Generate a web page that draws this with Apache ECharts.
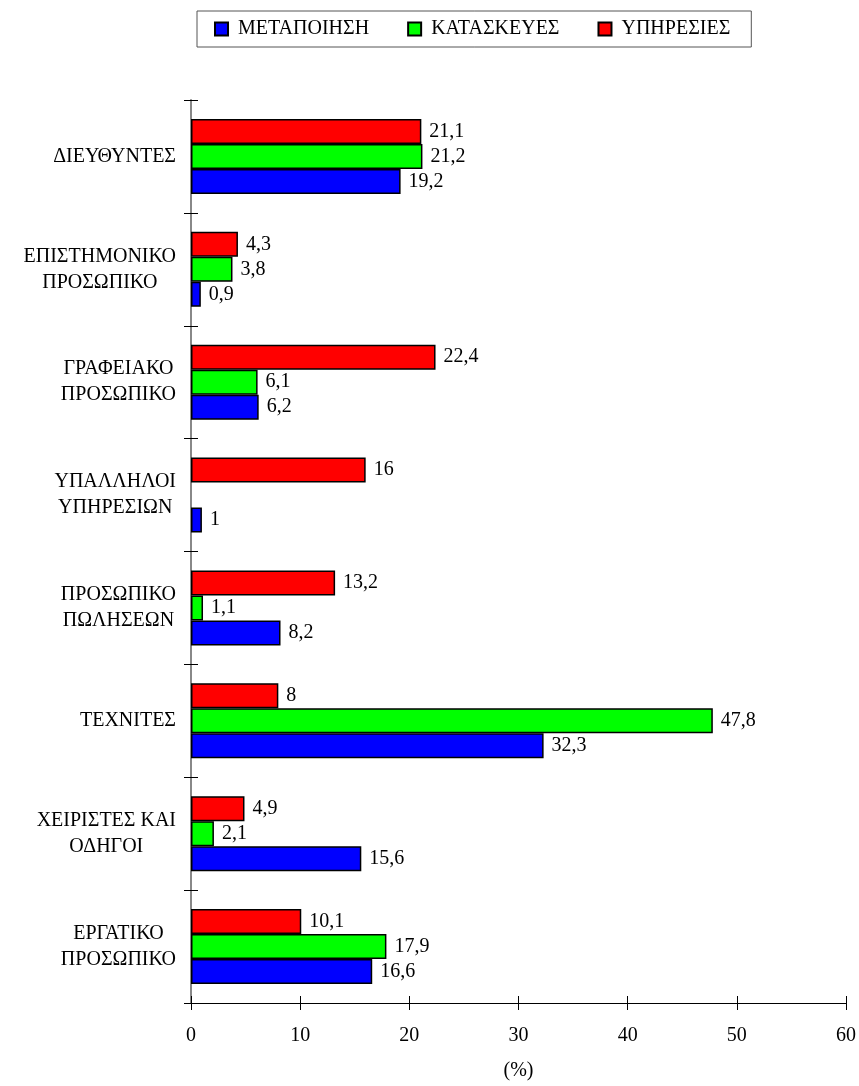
<!DOCTYPE html>
<html>
<head>
<meta charset="utf-8">
<title>Κατανομή απασχολούμενων ανά επάγγελμα και κλάδο</title>
<script src="https://cdn.jsdelivr.net/npm/echarts@6/dist/echarts.min.js"></script>
<style>
  html, body { margin: 0; padding: 0; background: #ffffff; }
  #chart { width: 859px; height: 1086px; }
</style>
</head>
<body>
<div id="chart"></div>
<script>
// Occupational groups (top to bottom)
const categories = [
  'ΔΙΕΥΘΥΝΤΕΣ',
  'ΕΠΙΣΤΗΜΟΝΙΚΟ\nΠΡΟΣΩΠΙΚΟ',
  'ΓΡΑΦΕΙΑΚΟ\nΠΡΟΣΩΠΙΚΟ',
  'ΥΠΑΛΛΗΛΟΙ\nΥΠΗΡΕΣΙΩΝ',
  'ΠΡΟΣΩΠΙΚΟ\nΠΩΛΗΣΕΩΝ',
  'ΤΕΧΝΙΤΕΣ',
  'ΧΕΙΡΙΣΤΕΣ ΚΑΙ\nΟΔΗΓΟΙ',
  'ΕΡΓΑΤΙΚΟ\nΠΡΟΣΩΠΙΚΟ'
];

// Share (%) of each group per sector
const seriesNames = ['ΜΕΤΑΠΟΙΗΣΗ', 'ΚΑΤΑΣΚΕΥΕΣ', 'ΥΠΗΡΕΣΙΕΣ'];
const metapoiisi = [19.2, 0.9, 6.2, 1, 8.2, 32.3, 15.6, 16.6];
const kataskeves = [21.2, 3.8, 6.1, null, 1.1, 47.8, 2.1, 17.9];
const ypiresies  = [21.1, 4.3, 22.4, 16, 13.2, 8, 4.9, 10.1];

// Value axis ticks
const xMin = 0, xMax = 60, xStep = 10;
const xAxisName = '(%)';

const FONT = '"Liberation Serif", "Times New Roman", serif';
const colors = { met: '#0000ff', kat: '#00ff00', yph: '#ff0000' };

const chart = echarts.init(document.getElementById('chart'), null, { renderer: 'canvas' });

function makeSeries(name, data, color) {
  return {
    name: name,
    type: 'bar',
    data: data,
    barWidth: 25,
    barGap: '0%',
    itemStyle: { color: color, borderColor: '#000000', borderWidth: 1.5 },
    label: {
      show: true,
      position: 'right',
      distance: 8,
      color: '#000000',
      fontFamily: FONT,
      fontSize: 20,
      formatter: p => String(p.value).replace('.', ',')
    },
    emphasis: { disabled: true },
    animation: false
  };
}

const option = {
  backgroundColor: '#ffffff',
  animation: false,
  legend: {
    data: seriesNames,
    left: 197,
    top: 11,
    orient: 'horizontal',
    padding: [7, 21, 7, 17],
    itemGap: 38,
    itemWidth: 13,
    itemHeight: 13,
    icon: 'rect',
    borderColor: '#555555',
    borderWidth: 1,
    textStyle: { fontFamily: FONT, fontSize: 20, color: '#000000', lineHeight: 22, padding: [0, 0, 0, 5] },
    selectedMode: false
  },
  grid: { left: 191, right: 12.5, top: 100, bottom: 83, containLabel: false },
  xAxis: [
    {
      type: 'value',
      min: xMin, max: xMax, interval: xStep,
      position: 'bottom',
      name: xAxisName,
      nameLocation: 'middle',
      nameGap: 58,
      nameMoveOverlap: false,
      nameTextStyle: { fontFamily: FONT, fontSize: 20, color: '#000000' },
      axisLine: { show: true, lineStyle: { color: '#000000', width: 1 } },
      axisTick: { show: true, inside: false, length: 7, lineStyle: { color: '#000000' } },
      axisLabel: { fontFamily: FONT, fontSize: 20, color: '#000000', margin: 23 },
      splitLine: { show: false }
    },
    {
      // inner half of the crossing ticks
      type: 'value',
      min: xMin, max: xMax, interval: xStep,
      position: 'bottom',
      offset: 0,
      axisLine: { show: false },
      axisTick: { show: true, inside: true, length: 7, lineStyle: { color: '#000000' } },
      axisLabel: { show: false },
      splitLine: { show: false }
    }
  ],
  yAxis: [
    {
      type: 'category',
      data: categories,
      inverse: true,
      position: 'left',
      axisLine: { show: true, onZero: false, lineStyle: { color: '#888888', width: 2 } },
      axisTick: { show: true, inside: false, length: 7, lineStyle: { color: '#000000' } },
      axisLabel: {
        margin: 15,
        align: 'right',
        formatter: v => v.split('\n').map(s => '{c|' + s + '}').join('\n'),
        rich: {
          c: { align: 'center', fontFamily: FONT, fontSize: 20, lineHeight: 26, color: '#000000' }
        }
      },
      splitLine: { show: false }
    },
    {
      // inner half of the crossing ticks
      type: 'category',
      data: categories,
      inverse: true,
      position: 'left',
      offset: 0,
      axisLine: { show: false },
      axisTick: { show: true, inside: true, length: 7, lineStyle: { color: '#000000' } },
      axisLabel: { show: false },
      splitLine: { show: false }
    }
  ],
  // Listed top-to-bottom within each band: services, construction, manufacturing
  series: [
    makeSeries(seriesNames[2], ypiresies, colors.yph),
    makeSeries(seriesNames[1], kataskeves, colors.kat),
    makeSeries(seriesNames[0], metapoiisi, colors.met)
  ]
};

chart.setOption(option);
</script>
</body>
</html>
